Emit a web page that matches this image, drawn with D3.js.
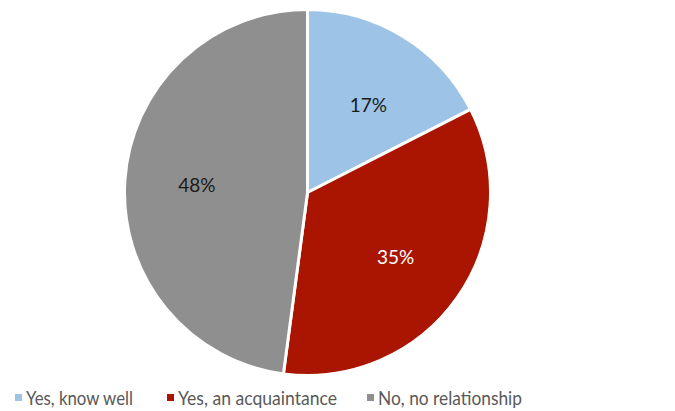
<!DOCTYPE html>
<html><head><meta charset="utf-8">
<script src="https://cdn.jsdelivr.net/npm/d3@7"></script>
<style>body{margin:0;background:#fff}svg{display:block}</style>
</head><body>
<svg id="c" width="675" height="411"></svg>
<script>
const categories = ["Yes, know well", "Yes, an acquaintance", "No, no relationship"];
const values = [17.5, 34.6, 47.9];
const labels = ["17%", "35%", "48%"];
const colors = ["#9DC3E6", "#A91500", "#8F8F8F"];
const labelColors = ["#1A1A1A", "#FFFFFF", "#1A1A1A"];

const svg = d3.select("#c");
const cx = 307.5, cy = 192.5, r = 183;
const FONT = "Lato, 'Open Sans', sans-serif";
const data = categories.map((c, i) => ({c, v: values[i], l: labels[i], col: colors[i], lc: labelColors[i]}));
const pie = d3.pie().value(d => d.v).sort(null);
const arc = d3.arc().innerRadius(0).outerRadius(r);
const g = svg.append("g").attr("transform", `translate(${cx},${cy})`);
const arcs = pie(data);
g.selectAll("path").data(arcs).join("path")
  .attr("d", arc).attr("fill", d => d.data.col)
  .attr("stroke", "#fff").attr("stroke-width", 3).attr("stroke-linejoin", "round");
// label placement (layout tweak per slice, radius/angle nudges)
const labelR = [107, 109, 111];
const angNudge = [0.055, 0.015, 0.01];
g.selectAll("text").data(arcs).join("text")
  .attr("transform", (d, i) => {
    const a = (d.startAngle + d.endAngle) / 2 + angNudge[i];
    return `translate(${labelR[i] * Math.sin(a)},${-labelR[i] * Math.cos(a)})`;
  })
  .attr("text-anchor", "middle").attr("dominant-baseline", "central")
  .attr("font-family", FONT).attr("font-size", 19)
  .attr("fill", d => d.data.lc).text(d => d.data.l);

const legendX = [15, 167, 367];
const legendW = [107, 159, 144];
const lg = svg.append("g");
data.forEach((d, i) => {
  lg.append("rect").attr("x", legendX[i]).attr("y", 394).attr("width", 7).attr("height", 7).attr("fill", d.col);
  lg.append("text").attr("x", legendX[i] + 11).attr("y", 405)
    .attr("font-family", FONT).attr("font-size", 19).attr("fill", "#595959")
    .attr("textLength", legendW[i]).attr("lengthAdjust", "spacingAndGlyphs").text(d.c);
});
</script>
</body></html>
